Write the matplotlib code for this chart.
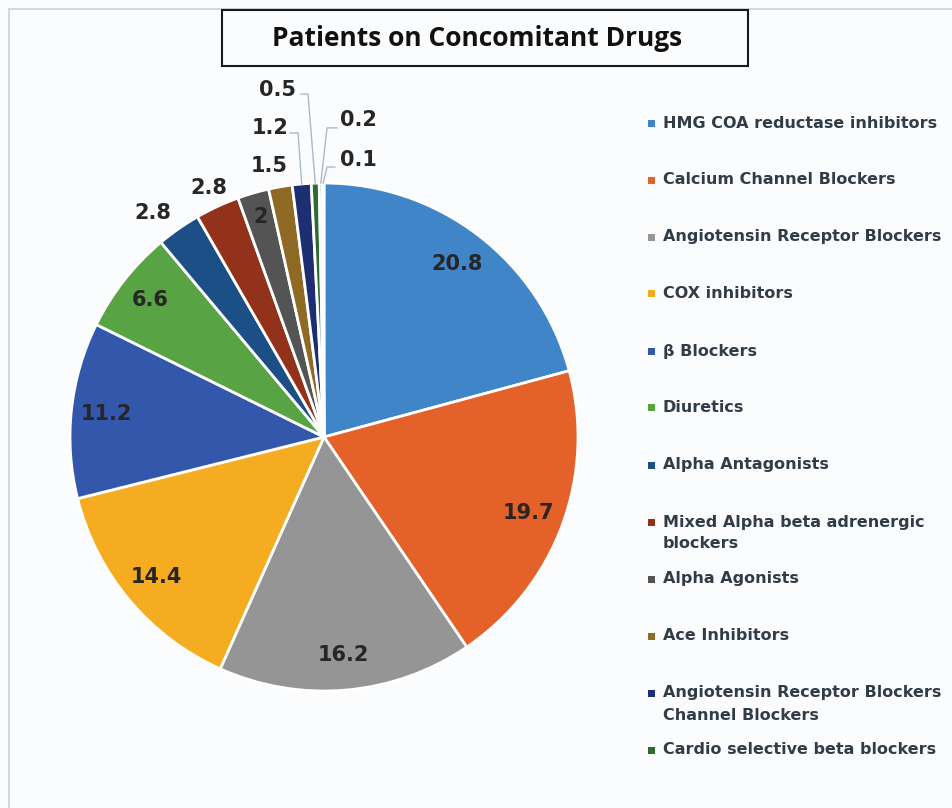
import matplotlib
matplotlib.use('Agg')
import numpy as np
import matplotlib.pyplot as plt
from matplotlib.patches import Rectangle

# share of patients (%) per drug class, clockwise from 12 o'clock
values = [20.8, 19.7, 16.2, 14.4, 11.2, 6.6, 2.8, 2.8, 2, 1.5, 1.2, 0.5, 0.2, 0.1]
value_labels = ['20.8', '19.7', '16.2', '14.4', '11.2', '6.6', '2.8', '2.8',
                '2', '1.5', '1.2', '0.5', '0.2', '0.1']
colors = ['#4185c9', '#e4622a', '#959595', '#f6ac20', '#3357aa', '#58a344',
          '#1d4f87', '#93321a', '#545454', '#8f6a24', '#1d2f72', '#2e6b2e',
          '#7cafdd', '#f1975a']
legend_names = [
    'HMG COA reductase inhibitors',
    'Calcium Channel Blockers',
    'Angiotensin Receptor Blockers',
    'COX inhibitors',
    'β Blockers',
    'Diuretics',
    'Alpha Antagonists',
    'Mixed Alpha beta adrenergic\nblockers',
    'Alpha Agonists',
    'Ace Inhibitors',
    'Angiotensin Receptor Blockers\nChannel Blockers',
    'Cardio selective beta blockers',
]

W, H = 952, 808
R = 254            # pie radius, px
CX, CY = 324, 437  # pie centre, px from top-left

fig = plt.figure(figsize=(W / 100, H / 100), dpi=100)
fig.patch.set_facecolor('#fbfcfe')

ax = fig.add_axes([0, 0, 1, 1])
wedges, _ = ax.pie(values, colors=colors, startangle=90, counterclock=False,
                   wedgeprops=dict(edgecolor='white', linewidth=2))
ax.set_xlim(-CX / R, (W - CX) / R)
ax.set_ylim(-(H - CY) / R, CY / R)
ax.set_aspect('equal')
ax.axis('off')

lab_font = dict(fontsize=15, fontweight='heavy', color='#262626',
                family='DejaVu Sans')

# radial position of the plain labels (in pie radii) and a small angular nudge
label_r = [0.86, 0.86, 0.86, 0.86, 0.86, 0.87, 1.11, 1.08, 0.90, 1.09]
label_da = [0, 0, 0, 0, 0, 0, 2.5, 0, 0, 1.5]
for w, txt, r, da in zip(wedges, value_labels, label_r, label_da):
    a = np.deg2rad((w.theta1 + w.theta2) / 2 + da)
    ax.text(r * np.cos(a), r * np.sin(a), txt, ha='center', va='center', **lab_font)

# thin slices get leader lines: (text x, text y, elbow x, elbow y, end x)
leaders = [
    (-0.213, 1.217, -0.102, 1.197, -0.134),
    (-0.185, 1.365, -0.063, 1.350, -0.091),
    (0.134, 1.250, 0.012, 1.217, 0.051),
    (0.134, 1.091, 0.012, 1.063, 0.043),
]
for w, txt, (tx, ty, kx, ky, ex) in zip(wedges[10:], value_labels[10:], leaders):
    a = np.deg2rad((w.theta1 + w.theta2) / 2)
    ax.plot([np.cos(a), kx, ex], [np.sin(a), ky, ky], color='#a9b9c8', lw=1,
            solid_joinstyle='miter')
    ax.text(tx, ty, txt, ha='center', va='center', **lab_font)

# outer frame (top and left edges visible)
fig.add_artist(Rectangle((9 / W, -0.1), 1.2, 1.1 - 9 / H, transform=fig.transFigure,
                         fill=False, edgecolor='#c5d3e0', lw=1.2))

# boxed title
fig.add_artist(Rectangle((222 / W, 1 - 66 / H), 526 / W, 56 / H,
                         transform=fig.transFigure, fill=False,
                         edgecolor='#1a1a1a', lw=1.5))
fig.text(477 / W, 1 - 39 / H, 'Patients on Concomitant Drugs', ha='center',
         va='center', fontsize=19, fontweight='bold', family='Open Sans',
         color='#111111')

# legend, one slot every 57 px
for i, name in enumerate(legend_names):
    y = 123 + 57 * i
    fig.add_artist(Rectangle((648 / W, 1 - (y + 3.5) / H), 7 / W, 7 / H,
                             transform=fig.transFigure, color=colors[i], lw=0))
    for k, line in enumerate(name.split('\n')):
        fig.text(663 / W, 1 - (y + 22 * k) / H, line, ha='left',
                 va='center', fontsize=11.5, fontweight='bold',
                 family='DejaVu Sans', color='#313c46')

fig.savefig('out.png', dpi=100, facecolor=fig.get_facecolor())
